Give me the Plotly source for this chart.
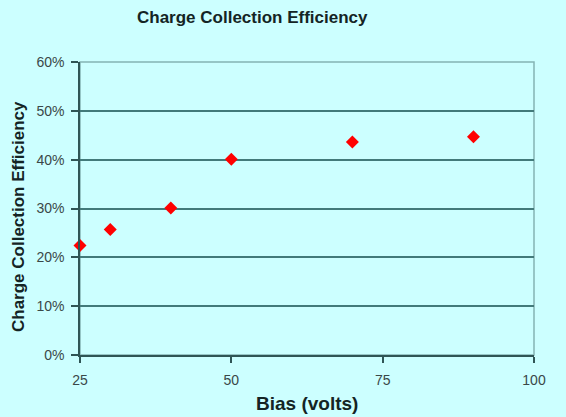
import plotly.graph_objects as go

bias_volts = [25, 30, 40, 50, 70, 90]
efficiency = [0.224, 0.257, 0.301, 0.401, 0.436, 0.447]
x_ticks = [25, 50, 75, 100]
y_ticks = [0, 0.1, 0.2, 0.3, 0.4, 0.5, 0.6]
y_tick_labels = ["0%", "10%", "20%", "30%", "40%", "50%", "60%"]

bg = "#ccffff"
grid = "#427a7a"
W, H = 566, 417

fig = go.Figure()
fig.add_trace(go.Scatter(
    x=bias_volts, y=efficiency, mode="markers",
    marker=dict(symbol="diamond", size=10, color="#ff0000"),
    cliponaxis=False, showlegend=False,
))

title_font = dict(family="Liberation Sans, Arial", size=17, color="#142424")

fig.update_layout(
    width=W, height=H,
    paper_bgcolor=bg, plot_bgcolor=bg,
    margin=dict(l=80, r=32, t=62, b=62),
    font=dict(family="Liberation Sans, Arial", size=14, color="#3a4848"),
    shapes=[dict(type="rect", xref="paper", yref="paper", x0=0, x1=1, y0=0, y1=1,
                 line=dict(color="#84b4b4", width=1.5), layer="below")],
    annotations=[
        dict(text="<b>Charge Collection Efficiency</b>", xref="paper", yref="paper",
             x=(252 - 80) / 454, y=1 + (62 - 18) / 293, xanchor="center", yanchor="middle",
             showarrow=False, font=title_font),
        dict(text="<b>Charge Collection Efficiency</b>", xref="paper", yref="paper",
             x=(18 - 80) / 454, y=(355 - 217) / 293, xanchor="center", yanchor="middle",
             textangle=-90, showarrow=False, font=title_font),
        dict(text="<b>Bias (volts)</b>", xref="paper", yref="paper",
             x=(307 - 80) / 454, y=-(403 - 355) / 293, xanchor="center", yanchor="middle",
             showarrow=False, font=dict(family="Liberation Sans, Arial", size=19, color="#142424")),
    ],
)

fig.update_xaxes(
    range=[25, 100], tickvals=x_ticks, ticktext=[str(v) for v in x_ticks],
    showgrid=False, zeroline=False, automargin=False,
    showline=True, linecolor="#2f5555", linewidth=1.5,
    ticks="outside", ticklen=6, tickcolor="#2f5555", tickwidth=1.5,
    ticklabelstandoff=5,
    tickfont=dict(size=14, color="#3a4848"),
)
fig.update_yaxes(
    range=[0, 0.6], tickvals=y_ticks, ticktext=y_tick_labels,
    showgrid=True, gridcolor=grid, gridwidth=1.5, zeroline=False, automargin=False,
    showline=True, linecolor="#2f5555", linewidth=1.5,
    ticks="outside", ticklen=7, tickcolor="#2f5555", tickwidth=1.5,
    ticklabelstandoff=4,
    tickfont=dict(size=14, color="#3a4848"),
)

fig.write_html(
    "out.html",
    config={"displayModeBar": False},
    post_script="document.body.style.margin='0';document.body.style.background='%s';" % bg,
)
